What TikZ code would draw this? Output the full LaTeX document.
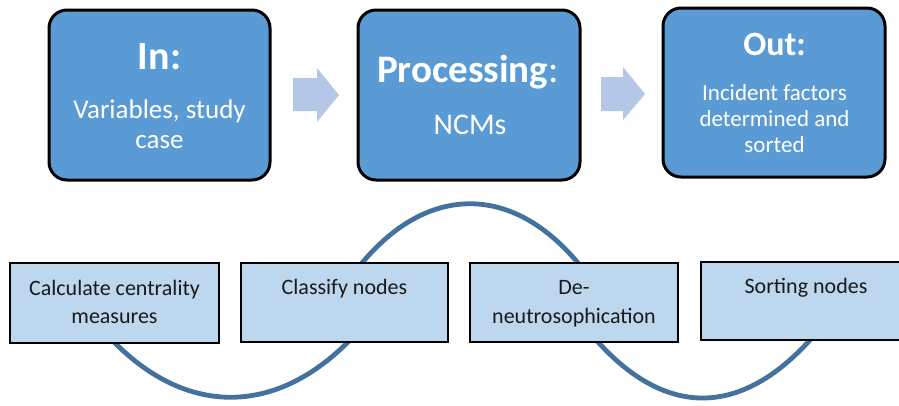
\documentclass[tikz,border=0pt]{standalone}
\usepackage{fontspec}
\setmainfont{Carlito}
\definecolor{topfill}{HTML}{5B9BD5}
\definecolor{botfill}{HTML}{BDD7EE}
\definecolor{arrowfill}{HTML}{B4C7E7}
\definecolor{wave}{HTML}{44729E}
\definecolor{bottext}{HTML}{1A1A1A}
\tikzset{
  topbox/.style={draw=black, line width=3pt, fill=topfill, rounded corners=18pt},
  botbox/.style={draw=black, line width=2.5pt, fill=botfill},
  toptitle/.style={text=white, font=\bfseries, anchor=base, inner sep=0pt},
  topsub/.style={text=white, anchor=base, inner sep=0pt},
  bottxt/.style={text=bottext, font=\fontsize{22}{28}\selectfont, anchor=base, inner sep=0pt},
  blockarrow/.style={fill=arrowfill},
  wavestyle/.style={draw=wave, line width=4.8pt}
}
\begin{document}
\begin{tikzpicture}[x=1pt,y=-1pt]
\useasboundingbox (0,0) rectangle (899,405);
\clip (0,0) rectangle (899,405);
\fill[white] (0,0) rectangle (899,405);

% wave behind the lower boxes
\coordinate (w0) at (105,300);
\coordinate (wA) at (115,343);
\coordinate (wB) at (348,342);
\coordinate (wC) at (362,263);
\coordinate (wD) at (578,263);
\coordinate (wE) at (598,342);
\coordinate (wF) at (810,340);
\coordinate (w9) at (825,300);
\draw[wavestyle]
  (w0) .. controls (105,318) and (107,335) .. (wA)
       .. controls (188,416) and (275,415) .. (wB)
       .. controls (356,334) and (354,271) .. (wC)
       .. controls (428,184) and (512,184) .. (wD)
       .. controls (586,271) and (590,334) .. (wE)
       .. controls (667,418) and (741,416) .. (wF)
       .. controls (818,332) and (825,318) .. (w9);

% top boxes
\draw[topbox] (49,10) rectangle (270,180);
\draw[topbox] (358,10) rectangle (580,180);
\draw[topbox] (663,8) rectangle (885,177);

\node[toptitle, font=\bfseries\fontsize{40}{44}\selectfont] (intitle) at (159.5,69) {In:};
\node[topsub, font=\fontsize{27}{30}\selectfont] (insubA) at (159.5,118) {Variables, study};
\node[topsub, font=\fontsize{27}{30}\selectfont] (insubB) at (159.5,148) {case};

\node[toptitle, font=\fontsize{39}{44}\selectfont] (proctitle) at (468,82) {\textbf{Processing}:};
\node[topsub, font=\fontsize{30}{34}\selectfont] (procsub) at (470,134) {NCMs};

\node[toptitle, font=\bfseries\fontsize{34}{40}\selectfont] (outtitle) at (774.5,55) {Out:};
\node[topsub, font=\fontsize{23}{26}\selectfont] (outA) at (774.5,100) {Incident factors};
\node[topsub, font=\fontsize{23}{26}\selectfont] (outB) at (774.5,126) {determined and};
\node[topsub, font=\fontsize{23}{26}\selectfont] (outC) at (774.5,152) {sorted};

% block arrows
\fill[blockarrow] (293,78) -- (317,78) -- (317,68) -- (339,95) -- (317,122) -- (317,111) -- (293,111) -- cycle;
\fill[blockarrow] (601,77) -- (623,77) -- (623,67) -- (645,94) -- (623,120) -- (623,111) -- (601,111) -- cycle;

% lower boxes
\draw[botbox] (10,263) rectangle (219,343);
\draw[botbox] (241,263) rectangle (448,342);
\draw[botbox] (470,263) rectangle (678,342);
\draw[botbox] (701,262) rectangle (911,340);

\node[bottxt] (calcA) at (114.5,295) {Calculate centrality};
\node[bottxt] (calcB) at (114.5,323) {measures};
\node[bottxt] (classA) at (344.5,294) {Classify nodes};
\node[bottxt] (deA) at (574,294) {De-};
\node[bottxt] (deB) at (574,323) {neutrosophication};
\node[bottxt] (sortA) at (806,293) {Sorting nodes};
\end{tikzpicture}
\end{document}
